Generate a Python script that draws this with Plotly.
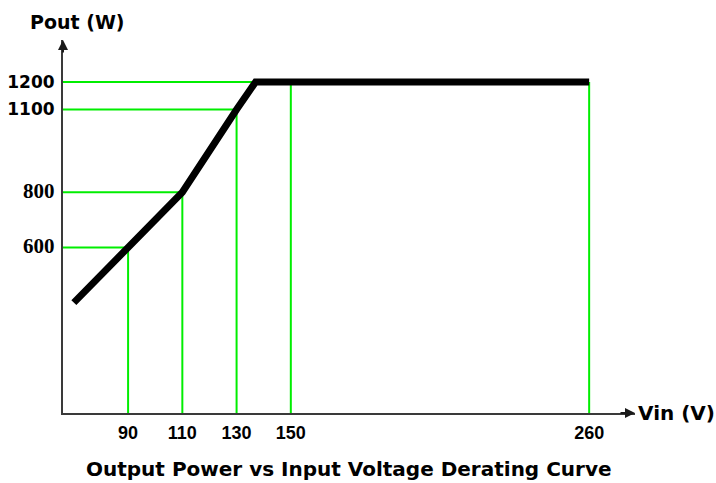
import plotly.graph_objects as go

# Derating curve (Vin in V, Pout in W)
VIN = [70, 90, 110, 130, 137, 260]
POUT = [400, 600, 800, 1100, 1200, 1200]

# Guide lines (green)
H_GUIDE_P = [600, 800, 1100, 1200]
H_GUIDE_V = [90, 110, 130, 137]
V_GUIDE_V = [90, 110, 130, 150, 260]
V_GUIDE_P = [600, 800, 1100, 1200, 1200]

# Tick labels
X_TICKS = [90, 110, 130, 150, 260]
X_TICK_TEXT = ["90", "110", "130", "150", "260"]
Y_TICKS = [600, 800, 1100, 1200]
SERIF = "<span style='font-family:Liberation Serif;font-size:21px'>{}</span>"
SANS = "<span style='font-family:DejaVu Sans'>{}</span>"
Y_TICK_TEXT = [SERIF.format("600"), SERIF.format("800"),
               SANS.format("1100"), SANS.format("1200")]

X_RANGE = [66, 276.9]
Y_RANGE = [0, 1352]

GREEN = "rgb(0,238,0)"
FONT = "Liberation Sans, Arial, sans-serif"
WIDE = "DejaVu Sans, Verdana, sans-serif"

fig = go.Figure()

gx, gy = [], []
for v, p in zip(H_GUIDE_V, H_GUIDE_P):
    gx += [X_RANGE[0], v, None]
    gy += [p, p, None]
for v, p in zip(V_GUIDE_V, V_GUIDE_P):
    gx += [v, v, None]
    gy += [0, p, None]
fig.add_trace(go.Scatter(x=gx, y=gy, mode="lines",
                         line=dict(color=GREEN, width=2),
                         hoverinfo="skip", showlegend=False))

fig.add_trace(go.Scatter(x=VIN, y=POUT, mode="lines",
                         line=dict(color="black", width=7),
                         showlegend=False))

axis_common = dict(showgrid=False, zeroline=False, ticks="", automargin=False,
                   showline=True, linecolor="#3a3a3a", linewidth=2)

fig.update_xaxes(range=X_RANGE, tickmode="array", tickvals=X_TICKS,
                 ticktext=X_TICK_TEXT, ticklabelstandoff=2,
                 tickfont=dict(family=FONT, size=18, color="black", weight="bold"),
                 **axis_common)
fig.update_yaxes(range=Y_RANGE, tickmode="array", tickvals=Y_TICKS,
                 ticktext=Y_TICK_TEXT, ticklabelstandoff=3,
                 tickfont=dict(family=WIDE, size=17, color="black", weight="bold"),
                 **axis_common)

annots = [
    # axis arrowheads
    dict(x=1, y=0, xref="paper", yref="paper", ax=-16, ay=0, text="",
         showarrow=True, arrowhead=2, arrowsize=1, arrowwidth=2, arrowcolor="#1a1a1a"),
    dict(x=0, y=1, xref="paper", yref="paper", ax=0, ay=14, text="",
         showarrow=True, arrowhead=2, arrowsize=1, arrowwidth=2, arrowcolor="#1a1a1a"),
    dict(x=0, y=1, xref="paper", yref="paper", xanchor="left", yanchor="middle",
         xshift=-35, yshift=18, showarrow=False, text="Pout (W)",
         font=dict(family=WIDE, size=19, color="black", weight="bold")),
    dict(x=1, y=0, xref="paper", yref="paper", xanchor="left", yanchor="middle",
         xshift=1, showarrow=False, text="Vin (V)",
         font=dict(family=WIDE, size=20, color="black", weight="bold")),
    dict(x=0.5, y=0, xref="paper", yref="paper", xanchor="center", yanchor="middle",
         yshift=-56, showarrow=False,
         text="Output Power vs Input Voltage Derating Curve",
         font=dict(family=WIDE, size=20, color="black", weight="bold")),
]

fig.update_layout(
    width=716, height=483,
    margin=dict(l=63, r=81, t=40, b=70),
    paper_bgcolor="white", plot_bgcolor="white",
    annotations=annots,
)

fig.write_html("out.html", config={"displayModeBar": False},
               post_script="document.body.style.margin='0';document.body.style.padding='0';")
